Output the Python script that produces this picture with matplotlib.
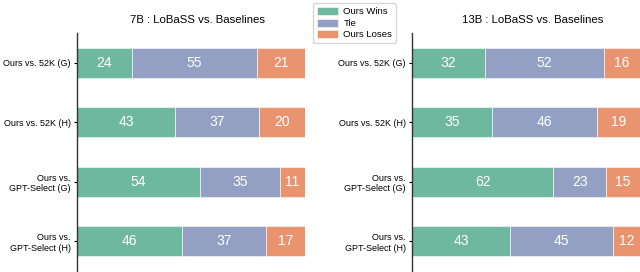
import matplotlib.pyplot as plt
import numpy as np

plt.rcParams['font.family'] = ['Liberation Sans', 'DejaVu Sans']

pairs = ["Ours vs. 52K (G)", "Ours vs. 52K (H)",
         "Ours vs.\nGPT-Select (G)", "Ours vs.\nGPT-Select (H)"]

wins_7b = [24, 43, 54, 46]
tie_7b = [55, 37, 35, 37]
lose_7b = [21, 20, 11, 17]

wins_13b = [32, 35, 62, 43]
tie_13b = [52, 46, 23, 45]
lose_13b = [16, 19, 15, 12]

series_names = ["Ours Wins", "Tie", "Ours Loses"]
colors = ["#6fb8a0", "#93a0c4", "#e9936f"]

fig = plt.figure(figsize=(6.4, 2.72), dpi=100)
ax1 = fig.add_axes([77 / 640, 1 / 272, 228 / 640, 238 / 272])
ax2 = fig.add_axes([412 / 640, 1 / 272, 228 / 640, 238 / 272])

y = np.arange(len(pairs))


def draw(ax, wins, tie, lose, title):
    left = np.zeros(len(pairs))
    for vals, name, c in zip([wins, tie, lose], series_names, colors):
        bars = ax.barh(y, vals, left=left, height=0.5, color=c,
                       edgecolor="white", linewidth=0.4, label=name)
        for b, v in zip(bars, vals):
            ax.text(b.get_x() + b.get_width() / 2, b.get_y() + b.get_height() / 2,
                    str(v), ha="center", va="center", color="white", fontsize=10)
        left = left + np.array(vals)
    ax.set_xlim(0, 100)
    ax.set_ylim(3.5, -0.5)
    ax.set_yticks(y)
    ax.set_yticklabels(pairs, fontsize=6.5)
    ax.set_xticks([])
    for s in ["top", "right", "bottom"]:
        ax.spines[s].set_visible(False)
    ax.spines["left"].set_color("#333333")
    ax.spines["left"].set_linewidth(1.0)
    ax.tick_params(axis="y", length=2.5, width=0.8, pad=2)
    ax.set_title(title, fontsize=8.2, pad=7, x=0.53)


draw(ax1, wins_7b, tie_7b, lose_7b, "7B : LoBaSS vs. Baselines")
draw(ax2, wins_13b, tie_13b, lose_13b, "13B : LoBaSS vs. Baselines")

handles, labels = ax1.get_legend_handles_labels()
fig.legend(handles, labels, loc="upper center", bbox_to_anchor=(0.554, 1.005),
           fontsize=6.8, frameon=True, handlelength=2.2, handleheight=0.9,
           borderpad=0.4, labelspacing=0.25, handletextpad=0.6)

plt.savefig("out.png")
